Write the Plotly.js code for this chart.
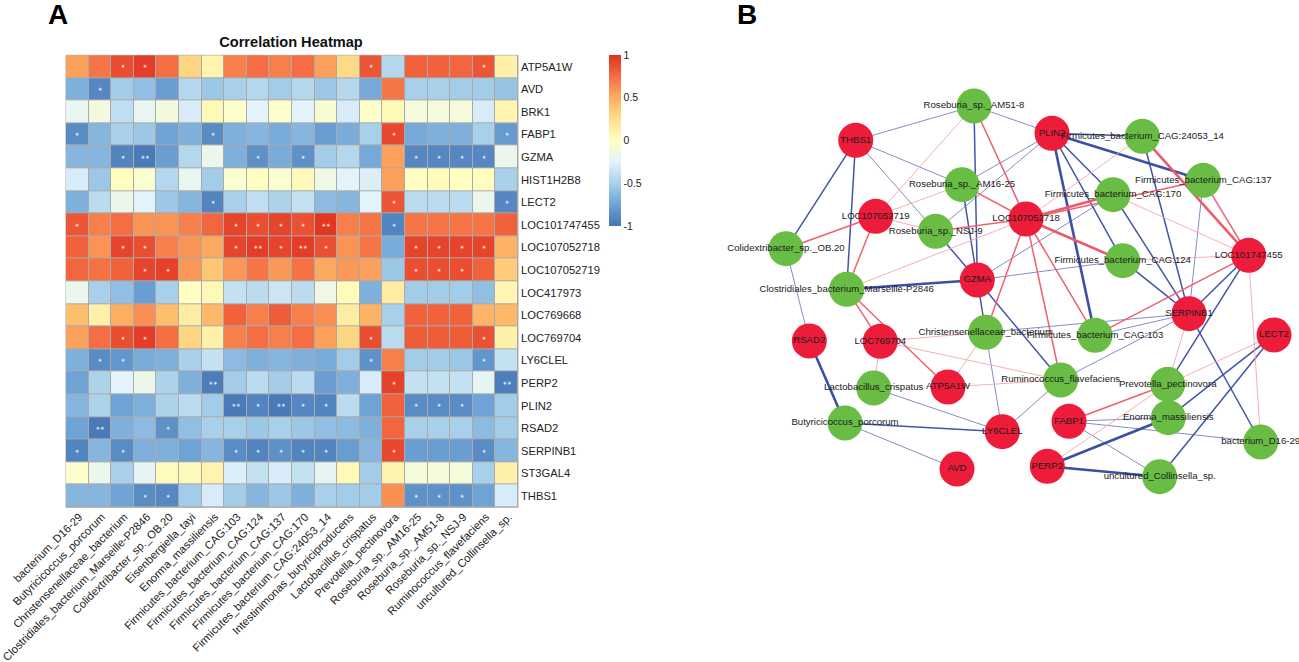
<!DOCTYPE html>
<html>
<head>
<meta charset="utf-8">
<script src="https://cdn.plot.ly/plotly-3.0.1.min.js"></script>
<style>html,body{margin:0;padding:0;background:#fff}#chart{width:1299px;height:662px}</style>
</head>
<body>
<div id="chart"></div>
<script>
const microbes = ["bacterium_D16-29","Butyricicoccus_porcorum","Christensenellaceae_bacterium","Clostridiales_bacterium_Marseille-P2846","Colidextribacter_sp._OB.20","Eisenbergiella_tayi","Enorma_massiliensis","Firmicutes_bacterium_CAG:103","Firmicutes_bacterium_CAG:124","Firmicutes_bacterium_CAG:137","Firmicutes_bacterium_CAG:170","Firmicutes_bacterium_CAG:24053_14","Intestinimonas_butyriciproducens","Lactobacillus_crispatus","Prevotella_pectinovora","Roseburia_sp._AM16-25","Roseburia_sp._AM51-8","Roseburia_sp._NSJ-9","Ruminococcus_flavefaciens","uncultured_Collinsella_sp."];
const genes = ["ATP5A1W","AVD","BRK1","FABP1","GZMA","HIST1H2B8","LECT2","LOC101747455","LOC107052718","LOC107052719","LOC417973","LOC769668","LOC769704","LY6CLEL","PERP2","PLIN2","RSAD2","SERPINB1","ST3GAL4","THBS1"];
const correlation = [
[.55,.72,.88,.95,.75,.3,.1,.68,.75,.68,.75,.55,.28,.85,-.45,.8,.8,.78,.85,.12],
[-.68,-.9,-.52,-.6,-.78,-.45,-.55,-.5,-.45,-.52,-.45,-.55,-.45,-.72,.72,-.5,-.5,-.52,-.52,-.58],
[-.2,-.12,-.4,-.2,-.12,-.3,.05,-.03,-.25,-.03,-.25,-.07,-.3,-.02,.05,-.1,-.1,-.1,-.3,.08],
[-.88,-.65,-.5,-.55,-.75,-.68,-.88,-.68,-.65,-.7,-.65,-.78,-.7,-.5,.9,-.72,-.68,-.68,-.5,-.8],
[-.65,-.65,-.92,-.97,-.78,-.45,-.18,-.68,-.85,-.7,-.85,-.52,-.45,-.72,.55,-.9,-.9,-.9,-.9,-.18],
[-.3,-.55,.02,-.05,-.45,-.2,-.52,-.05,0,-.05,.05,-.15,-.25,-.28,.55,0,.03,0,.02,-.5],
[-.68,-.42,-.17,-.25,-.55,-.65,-.92,-.5,-.4,-.48,-.38,-.62,-.65,-.25,.85,-.42,-.42,-.42,-.18,-.9],
[.85,.68,.75,.6,.6,.68,.78,.92,.88,.92,.87,.97,.68,.72,-.92,.72,.72,.72,.72,.8],
[.8,.6,.92,.88,.68,.6,.52,.92,.95,.92,.95,.87,.6,.72,-.7,.92,.92,.92,.92,.48],
[.78,.73,.8,.92,.93,.58,.38,.58,.72,.58,.73,.52,.58,.55,-.55,.88,.88,.88,.8,.35],
[-.18,-.5,-.6,-.78,-.5,0,.05,-.38,-.42,-.35,-.42,-.15,.03,-.68,.15,-.52,-.52,-.52,-.6,.07],
[.42,.12,.5,.62,.42,.15,.45,.8,.68,.82,.68,.62,.15,.48,-.5,.8,.8,.8,.47,.45],
[.55,.75,.88,.95,.75,.3,.12,.68,.75,.68,.75,.55,.3,.88,-.42,.82,.82,.82,.87,.12],
[-.68,-.88,-.82,-.7,-.68,-.5,-.38,-.62,-.68,-.65,-.68,-.7,-.52,-.85,.68,-.52,-.52,-.55,-.82,-.38],
[-.75,-.48,-.25,-.17,-.48,-.68,-.95,-.52,-.42,-.52,-.42,-.78,-.68,-.3,.93,-.38,-.38,-.38,-.22,-.95],
[-.65,-.48,-.75,-.68,-.48,-.42,-.52,-.97,-.92,-.97,-.9,-.92,-.42,-.75,.8,-.88,-.88,-.88,-.75,-.52],
[-.75,-.97,-.68,-.62,-.85,-.6,-.5,-.5,-.55,-.5,-.55,-.6,-.62,-.68,.78,-.5,-.5,-.5,-.62,-.52],
[-.92,-.65,-.88,-.68,-.68,-.75,-.65,-.88,-.92,-.85,-.92,-.92,-.78,-.65,.9,-.78,-.78,-.78,-.88,-.65],
[-.03,-.18,-.5,-.22,.03,.05,.1,-.28,-.38,-.3,-.38,-.22,.05,-.52,.1,-.1,-.1,-.1,-.5,.12],
[-.65,-.65,-.75,-.88,-.9,-.52,-.3,-.52,-.65,-.55,-.68,-.5,-.52,-.52,.62,-.85,-.85,-.85,-.75,-.3]
];
const significance = [
["","","*","*","","","","","","","","","","*","","","","","*",""],
["","*","","","","","","","","","","","","","","","","","",""],
["","","","","","","","","","","","","","","","","","","",""],
["*","","","","","","*","","","","","","","","*","","","","","*"],
["","","*","**","","","","","*","","*","","","","","*","*","*","*",""],
["","","","","","","","","","","","","","","","","","","",""],
["","","","","","","*","","","","","","","","*","","","","","*"],
["*","","","","","","","*","*","*","*","**","","","*","","","","",""],
["","","*","*","","","","*","**","*","**","*","","","","*","*","*","*",""],
["","","","*","*","","","","","","","","","","","*","*","*","",""],
["","","","","","","","","","","","","","","","","","","",""],
["","","","","","","","","","","","","","","","","","","",""],
["","","*","*","","","","","","","","","","*","","","","","*",""],
["","*","*","","","","","","","","","","","*","","","","","*",""],
["","","","","","","**","","","","","","","","*","","","","","**"],
["","","","","","","","**","*","**","*","*","","","","*","*","*","",""],
["","**","","","*","","","","","","","","","","","","","","",""],
["*","","*","","","","","*","*","*","*","*","","","*","","","","*",""],
["","","","","","","","","","","","","","","","","","","",""],
["","","","*","*","","","","","","","","","","","*","*","*","",""]
];
const colorStops = [[0,"#4575b4"],[0.125,"#6fa3d6"],[0.25,"#a8d0ea"],[0.375,"#e3f3fb"],[0.5,"#ffffc4"],[0.625,"#fee08b"],[0.75,"#fdae61"],[0.875,"#f46d43"],[1,"#e0301f"]];

const nodeNames = ["THBS1","Roseburia_sp._AM51-8","Roseburia_sp._AM16-25","LOC107052719","Roseburia_sp._NSJ-9","Colidextribacter_sp._OB.20","Clostridiales_bacterium_Marseille-P2846","GZMA","PLIN2","Firmicutes_bacterium_CAG:24053_14","Firmicutes_bacterium_CAG:137","Firmicutes_bacterium_CAG:170","LOC107052718","Firmicutes_bacterium_CAG:124","LOC101747455","SERPINB1","RSAD2","LOC769704","Christensenellaceae_bacterium","Lactobacillus_crispatus","ATP5A1W","Butyricicoccus_porcorum","LY6CLEL","AVD","Firmicutes_bacterium_CAG:103","LECT2","Ruminococcus_flavefaciens","Prevotella_pectinovora","FABP1","Enorma_massiliensis","bacterium_D16-29","PERP2","uncultured_Collinsella_sp."];
const nodeX = [855.7,974,962,875.7,935.7,786,846.7,977.3,1052,1142.3,1203.3,1113,1026,1122.7,1248.7,1189,809.3,880.3,985.7,873.7,948,845,1002.3,957,1095,1274,1060.7,1167.7,1069,1168.3,1260.7,1047.3,1159.7];
const nodeY = [140.3,106,184.7,216.3,231.3,248.7,289.3,280,133.3,136.3,180.3,194.7,219,260.7,255.3,313.7,341,341.3,332.3,388,387,423,431.7,469,335.3,335,380,384.3,421.3,417.7,442,466.3,476.7];
const geneNodes = genes;

// Edges: negative correlations (blue), positive (red); weak = thin, strong = thick
const negWeak = [["THBS1","Roseburia_sp._AM51-8"],["THBS1","Roseburia_sp._AM16-25"],["THBS1","Roseburia_sp._NSJ-9"],["Roseburia_sp._AM51-8","PLIN2"],["Roseburia_sp._AM16-25","PLIN2"],["Roseburia_sp._NSJ-9","PLIN2"],["Colidextribacter_sp._OB.20","RSAD2"],["GZMA","Firmicutes_bacterium_CAG:170"],["GZMA","Firmicutes_bacterium_CAG:124"],["Christensenellaceae_bacterium","LY6CLEL"],["Christensenellaceae_bacterium","SERPINB1"],["Lactobacillus_crispatus","LY6CLEL"],["Butyricicoccus_porcorum","AVD"],["LY6CLEL","Ruminococcus_flavefaciens"],["Ruminococcus_flavefaciens","SERPINB1"],["Firmicutes_bacterium_CAG:103","SERPINB1"],["Firmicutes_bacterium_CAG:137","SERPINB1"],["FABP1","bacterium_D16-29"],["FABP1","uncultured_Collinsella_sp."],["FABP1","Enorma_massiliensis"]];
const negMedium = [["THBS1","Colidextribacter_sp._OB.20"],["THBS1","Clostridiales_bacterium_Marseille-P2846"],["Roseburia_sp._AM51-8","GZMA"],["Roseburia_sp._AM16-25","GZMA"],["Roseburia_sp._NSJ-9","GZMA"],["GZMA","Christensenellaceae_bacterium"],["GZMA","Ruminococcus_flavefaciens"],["Butyricicoccus_porcorum","LY6CLEL"],["PLIN2","Firmicutes_bacterium_CAG:124"],["PLIN2","Firmicutes_bacterium_CAG:170"],["PLIN2","Firmicutes_bacterium_CAG:24053_14"],["Firmicutes_bacterium_CAG:124","SERPINB1"],["Firmicutes_bacterium_CAG:170","SERPINB1"],["Firmicutes_bacterium_CAG:24053_14","SERPINB1"],["LOC101747455","SERPINB1"],["LOC101747455","Prevotella_pectinovora"],["SERPINB1","bacterium_D16-29"],["LECT2","Enorma_massiliensis"],["LECT2","uncultured_Collinsella_sp."]];
const negStrong = [["Clostridiales_bacterium_Marseille-P2846","GZMA"],["RSAD2","Butyricicoccus_porcorum"],["Firmicutes_bacterium_CAG:103","PLIN2"],["PLIN2","Firmicutes_bacterium_CAG:137"],["PERP2","Enorma_massiliensis"],["PERP2","uncultured_Collinsella_sp."]];
const posWeak = [["LOC107052719","Roseburia_sp._AM51-8"],["LOC107052719","Roseburia_sp._AM16-25"],["LOC107052719","Roseburia_sp._NSJ-9"],["Clostridiales_bacterium_Marseille-P2846","LOC107052718"],["Christensenellaceae_bacterium","ATP5A1W"],["Christensenellaceae_bacterium","LOC769704"],["LOC769704","Ruminococcus_flavefaciens"],["LOC769704","Lactobacillus_crispatus"],["ATP5A1W","Ruminococcus_flavefaciens"],["Firmicutes_bacterium_CAG:24053_14","LOC107052718"],["Firmicutes_bacterium_CAG:124","LOC101747455"],["Firmicutes_bacterium_CAG:170","LOC101747455"],["LOC101747455","bacterium_D16-29"],["SERPINB1","Prevotella_pectinovora"],["LECT2","Prevotella_pectinovora"],["PERP2","Prevotella_pectinovora"]];
const posMedium = [["LOC107052719","Colidextribacter_sp._OB.20"],["LOC107052719","Clostridiales_bacterium_Marseille-P2846"],["Roseburia_sp._NSJ-9","LOC107052718"],["Roseburia_sp._AM51-8","LOC107052718"],["Roseburia_sp._AM16-25","LOC107052718"],["Clostridiales_bacterium_Marseille-P2846","LOC769704"],["Clostridiales_bacterium_Marseille-P2846","ATP5A1W"],["LOC107052718","Christensenellaceae_bacterium"],["LOC107052718","Ruminococcus_flavefaciens"],["LOC107052718","Firmicutes_bacterium_CAG:103"],["Firmicutes_bacterium_CAG:103","LOC101747455"],["Firmicutes_bacterium_CAG:137","LOC107052718"],["Firmicutes_bacterium_CAG:137","LOC101747455"],["FABP1","Prevotella_pectinovora"]];
const posStrong = [["Firmicutes_bacterium_CAG:170","LOC107052718"],["Firmicutes_bacterium_CAG:124","LOC107052718"],["Firmicutes_bacterium_CAG:24053_14","LOC101747455"]];
const panelLetters = ["A","B"];

function edgeTrace(pairs, color, width) {
  const x = [], y = [];
  pairs.forEach(([a, b]) => {
    const i = nodeNames.indexOf(a), j = nodeNames.indexOf(b);
    x.push(nodeX[i], nodeX[j], null);
    y.push(nodeY[i], nodeY[j], null);
  });
  return {type:"scatter", mode:"lines", x, y, xaxis:"x2", yaxis:"y2", hoverinfo:"skip", showlegend:false, line:{color, width}};
}

const FONT = "Liberation Sans, Arial, sans-serif";
const W = 1299, H = 662;
const displayStars = significance.map(r => r.map(s => s.replace(/\*/g, "\u2217")));
const traces = [
  {type:"heatmap", x:microbes, y:genes, z:correlation, text:displayStars, texttemplate:"%{text}",
   textfont:{color:"#ffffff", size:5.5, family:"DejaVu Sans"}, zmin:-1, zmax:1, colorscale:colorStops, xgap:1, ygap:1,
   hoverongaps:false,
   colorbar:{x:609/W, xanchor:"left", y:1-55/H, yanchor:"top", lenmode:"pixels", len:171, thicknessmode:"pixels", thickness:12,
     tickvals:[-1,-0.5,0,0.5,1], ticktext:["-1","-0.5","0","0.5","1"], ticks:"", outlinewidth:0, xpad:0, ypad:0,
     tickfont:{family:FONT, size:10.5, color:"#222"}}},
  edgeTrace(negWeak, "#7480c0", 0.9),
  edgeTrace(negMedium, "#4355a8", 1.5),
  edgeTrace(negStrong, "#3a4fa6", 2.6),
  edgeTrace(posWeak, "#f8a3ac", 0.9),
  edgeTrace(posMedium, "#f0606f", 1.5),
  edgeTrace(posStrong, "#ee5a68", 2.6),
  {type:"scatter", mode:"markers+text", x:nodeX, y:nodeY, text:nodeNames, xaxis:"x2", yaxis:"y2", showlegend:false,
   textposition:"middle center", textfont:{family:FONT, size:9.6, color:"#1a1a1a"}, cliponaxis:false,
   marker:{size:35, color:nodeNames.map(n => geneNodes.includes(n) ? "#ee1c3b" : "#69bd45"), line:{width:0}}}
];
const layout = {
  width:W, height:H, margin:{l:0,r:0,t:0,b:0}, paper_bgcolor:"#fff", plot_bgcolor:"rgba(0,0,0,0)", showlegend:false,
  font:{family:FONT, color:"#222"},
  title:{text:"Correlation Heatmap", x:291/W, xanchor:"center", xref:"paper", y:1-42/H, yanchor:"middle", yref:"paper", font:{family:FONT, size:14.6, color:"#111", weight:700}},
  xaxis:{domain:[66/W,518/W], anchor:"y", type:"category", tickangle:-45, ticks:"", ticklen:0, showgrid:false, zeroline:false, showline:false, automargin:false, ticklabelshift:2, tickfont:{family:FONT, size:11.2, color:"#222"}, tickmode:"array", tickvals:microbes, ticktext:microbes},
  yaxis:{domain:[1-507.3/H,1-55.3/H], anchor:"x", type:"category", autorange:"reversed", side:"right", ticks:"", ticklen:0, ticklabelstandoff:2, showgrid:false, zeroline:false, showline:false, automargin:false, tickfont:{family:FONT, size:11.2, color:"#222"}, tickmode:"array", tickvals:genes, ticktext:genes},
  xaxis2:{domain:[700/W,1], range:[700,W], anchor:"y2", visible:false, fixedrange:true},
  yaxis2:{domain:[0,1], range:[H,0], anchor:"x2", visible:false, fixedrange:true},
  shapes:[{type:"rect", xref:"x domain", yref:"y domain", x0:0, x1:1, y0:0, y1:1, fillcolor:"#aaaaaa", line:{width:1,color:"#aaaaaa"}, layer:"below"}],
  annotations:[
    {text:panelLetters[0], xref:"paper", yref:"paper", x:58/W, y:1-15/H, xanchor:"center", yanchor:"middle", showarrow:false, font:{family:FONT, size:28, color:"#000", weight:700}},
    {text:panelLetters[1], xref:"paper", yref:"paper", x:746.5/W, y:1-15/H, xanchor:"center", yanchor:"middle", showarrow:false, font:{family:FONT, size:28, color:"#000", weight:700}}
  ]
};
Plotly.newPlot("chart", traces, layout, {displayModeBar:false, staticPlot:true});
</script>
</body>
</html>
